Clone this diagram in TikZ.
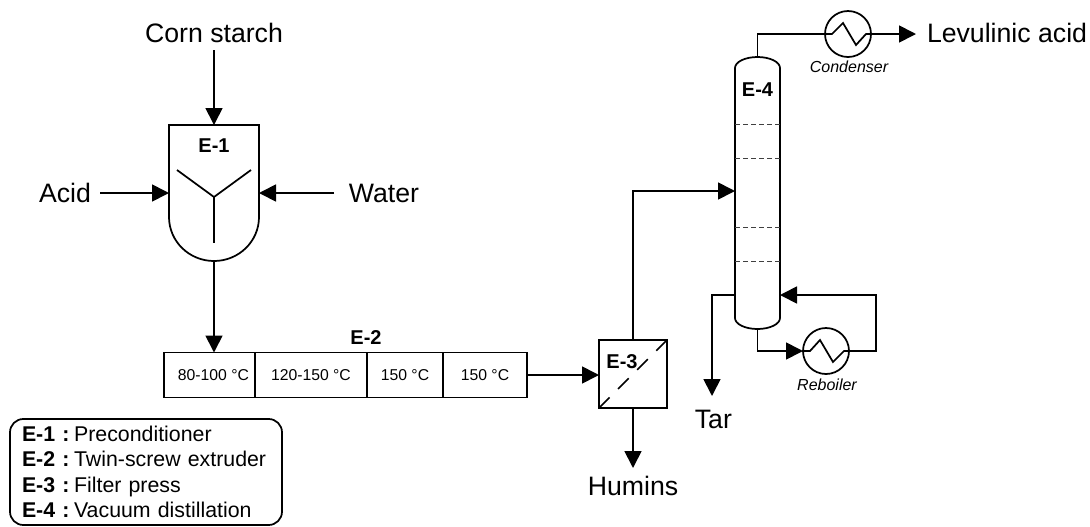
\documentclass[tikz,border=0pt]{standalone}
\usepackage{fontspec}
\setmainfont{Liberation Sans}
\usetikzlibrary{arrows.meta}
\tikzset{
  line/.style={line width=1.3pt,line join=miter},
  flow/.style={line,-{Triangle[length=12.75pt,width=12.75pt]}},
  lbl/.style={font=\fontsize{20}{24}\selectfont,inner sep=0pt,outer sep=0pt},
  tag/.style={font=\bfseries\fontsize{15}{18}\selectfont,inner sep=0pt},
  unitbox/.style={inner sep=0pt,outer sep=0pt},
  zone/.style={draw,line,unitbox,minimum height=33.75pt,font=\fontsize{11.8}{14}\selectfont},
  hx/.style={circle,draw,line,unitbox,minimum size=34.5pt},
  hxname/.style={font=\itshape\fontsize{12}{14}\selectfont,inner sep=0pt},
  tray/.style={line width=0.6pt,draw=black!75,dash pattern=on 3.8pt off 2.2pt},
}
\begin{document}
\begin{tikzpicture}[x=0.75pt,y=-0.75pt]
\useasboundingbox (0,0) rectangle (1090,526);
% text terminals
\node[lbl,minimum height=25.5pt] (corn) at (214,33) {Corn starch};
\node[lbl,minimum width=52.5pt] (acid) at (65,193) {Acid};
\node[lbl,minimum width=75pt] (water) at (384,193) {Water};
\node[lbl,minimum height=34.5pt] (tar) at (712,419) {\hspace*{2pt}Tar};
\node[lbl,minimum height=27pt] (humins) at (633,486) {Humins};
\node[lbl,anchor=west,inner xsep=8.25pt] (lev) at (916,33) {Levulinic acid};
% E-1
\node[unitbox,minimum width=67.5pt,minimum height=102pt] (e1) at (214,193) {};
\draw[line] (e1.north west) -- (e1.north east) -- (259,217)
  arc[start angle=0,end angle=-180,x radius=33.75pt,y radius=33pt] -- cycle;
\node[tag] (e1tag) at (214,146) {E-1};
\coordinate (hub) at (214,197);
\draw[line] (177,170) -- (hub) -- (251,170);
\draw[line] (hub) -- (214,243);
% E-2
\node[zone,minimum width=68.25pt] (z1) at (209.5,375) {\hspace*{6pt}80-100 °C};
\node[zone,minimum width=84pt] (z2) at (311,375) {120-150 °C};
\node[zone,minimum width=57pt] (z3) at (405,375) {150 °C};
\node[zone,minimum width=63pt] (z4) at (485,375) {150 °C};
\node[tag] (e2tag) at (366,338) {E-2};
% E-3
\node[draw,line,unitbox,minimum size=51pt] (e3) at (633,374) {};
\draw[line,dash pattern=on 11.25pt off 9pt] (e3.south west) -- (e3.north east);
\node[tag] (e3tag) at (622,362) {E-3};
% E-4
\node[unitbox,minimum width=33.75pt,minimum height=204pt] (col) at (757.5,193) {};
\draw[line] (735,68) arc[start angle=180,end angle=0,x radius=16.875pt,y radius=8.25pt]
  -- (780,318) arc[start angle=0,end angle=-180,x radius=16.875pt,y radius=8.25pt] -- cycle;
\node[tag] (e4tag) at (757.5,90) {E-4};
\foreach \yy in {124,158,227,261} \draw[tray] (735,\yy) -- (780,\yy);
\coordinate (feed) at (735,191);
\coordinate (loop) at (876,295);
% heat exchangers
\node[hx] (cond) at (848,34) {};
\draw[line] (cond.west) -- (832,34) -- (843,23) -- (856,45) -- (866,34) -- (cond.east);
\node[hxname] (condname) at (849,67) {Condenser};
\node[hx] (reb) at (826,351) {};
\draw[line] (reb.west) -- (810,351) -- (820,340) -- (833,362) -- (844,351) -- (reb.east);
\node[hxname] (rebname) at (827,385) {Reboiler};
% legend
\node[draw,line,rounded corners=10pt,unitbox,minimum width=204pt,minimum height=79.5pt,
  text width=186pt,align=left,font=\fontsize{16}{19.1}\selectfont] (legend) at (146,472)
  {\textbf{E-1 :}\hspace{-4.5pt} Preconditioner\\\textbf{E-2 :}\hspace{-4.5pt} Twin-screw extruder\\\textbf{E-3 :}\hspace{-4.5pt} Filter press\\\textbf{E-4 :}\hspace{-4.5pt} Vacuum distillation};
% connectors
\draw[flow] (corn.south) -- (corn.south |- e1.north);
\draw[flow] (acid.east) -- (acid.east -| e1.west);
\draw[flow] (water.west) -- (water.west -| e1.east);
\draw[flow] (e1.south) -- (e1.south |- z1.north);
\draw[flow] (z4.east) -- (z4.east -| e3.west);
\draw[flow] (e3.north) |- (feed);
\draw[flow] (e3.south) -- (humins.north);
\draw[line] (col.north) |- (cond.west);
\draw[flow] (cond.east) -- (cond.east -| lev.west);
\draw[flow] (col.south) |- (reb.west);
\draw[flow] (reb.east) -| (loop) -- (loop -| col.east);
\draw[flow] (loop -| col.west) -| (tar.north);
\end{tikzpicture}
\end{document}
